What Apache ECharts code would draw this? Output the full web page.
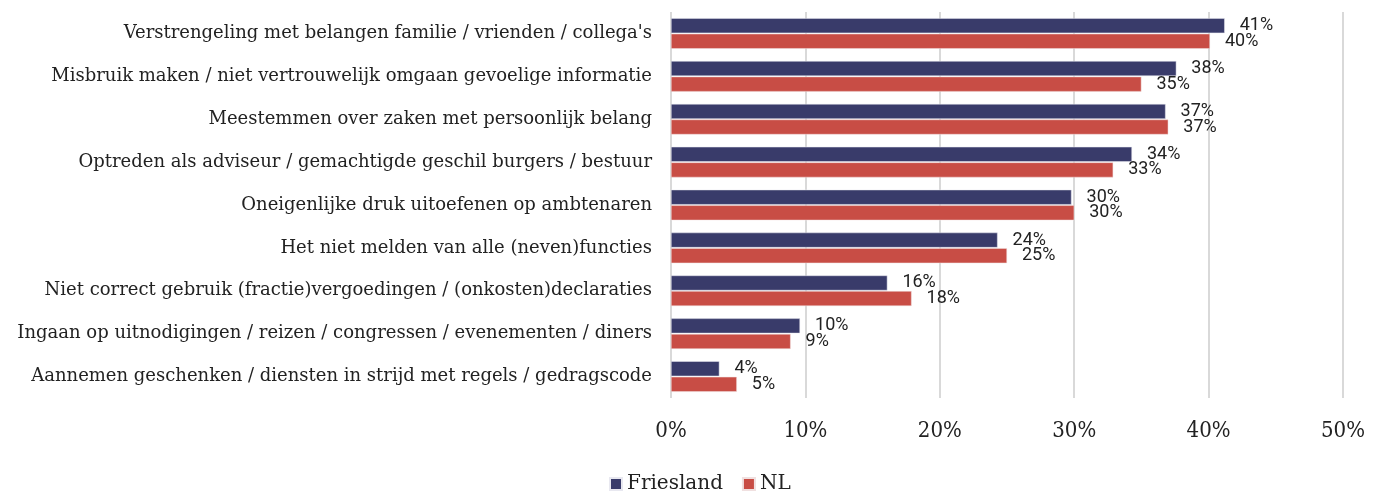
<!DOCTYPE html>
<html>
<head>
<meta charset="utf-8">
<script src="https://cdn.jsdelivr.net/npm/echarts@6/dist/echarts.min.js"></script>
<style>
  html, body { margin: 0; padding: 0; background: #fff; }
  #chart { width: 1384px; height: 492px; }
</style>
</head>
<body>
<div id="chart"></div>
<script>
// categorieen (van boven naar beneden)
const categories = [
  "Verstrengeling met belangen familie / vrienden / collega's",
  'Misbruik maken / niet vertrouwelijk omgaan gevoelige informatie',
  'Meestemmen over zaken met persoonlijk belang',
  'Optreden als adviseur / gemachtigde geschil burgers / bestuur',
  'Oneigenlijke druk uitoefenen op ambtenaren',
  'Het niet melden van alle (neven)functies',
  'Niet correct gebruik (fractie)vergoedingen / (onkosten)declaraties',
  'Ingaan op uitnodigingen / reizen / congressen / evenementen / diners',
  'Aannemen geschenken / diensten in strijd met regels / gedragscode'
];
// percentages
const friesland = [41.2, 37.6, 36.8, 34.3, 29.8, 24.3, 16.1, 9.6, 3.6];
const nl = [40.1, 35.0, 37.0, 32.9, 30.0, 25.0, 17.9, 8.9, 4.9];
const xTicks = [0, 10, 20, 30, 40, 50];

const serif = "'DejaVu Serif', serif";
const serifCond = "'DejaVu Serif Condensed', 'DejaVu Serif', serif";
const chart = echarts.init(document.getElementById('chart'));

const barLabel = {
  show: true,
  position: 'right',
  distance: 15,
  fontFamily: 'Roboto',
  fontSize: 18,
  color: '#222',
  formatter: p => Math.round(p.value) + '%'
};

chart.setOption({
  animation: false,
  color: ['#393B6A', '#C84D45'],
  grid: { left: 671, right: 41, top: 12, bottom: 94, containLabel: false },
  legend: {
    top: 469,
    left: 604,
    itemWidth: 12,
    itemHeight: 12,
    itemGap: 19,
    icon: 'rect',
    textStyle: { fontFamily: serif, fontSize: 20, color: '#222' },
    data: ['Friesland', 'NL']
  },
  xAxis: {
    type: 'value',
    min: xTicks[0],
    max: xTicks[xTicks.length - 1],
    interval: 10,
    axisLine: { show: false },
    axisTick: { show: false },
    splitLine: { show: true, lineStyle: { color: '#d9d9d9', width: 2 } },
    axisLabel: {
      margin: 22,
      fontFamily: serifCond,
      fontSize: 22,
      color: '#222',
      formatter: v => v + '%'
    }
  },
  yAxis: {
    type: 'category',
    inverse: true,
    data: categories,
    axisLine: { show: false },
    axisTick: { show: false },
    axisLabel: { margin: 19, fontFamily: serif, fontSize: 18, color: '#222' }
  },
  series: [
    {
      name: 'Friesland',
      type: 'bar',
      data: friesland,
      barWidth: 15,
      barGap: '4%',
      itemStyle: { borderColor: '#e8e8f0', borderWidth: 0.5 },
      label: barLabel
    },
    {
      name: 'NL',
      type: 'bar',
      data: nl,
      barWidth: 15,
      itemStyle: { borderColor: '#f0e0e0', borderWidth: 0.5 },
      label: barLabel
    }
  ]
});
</script>
</body>
</html>
